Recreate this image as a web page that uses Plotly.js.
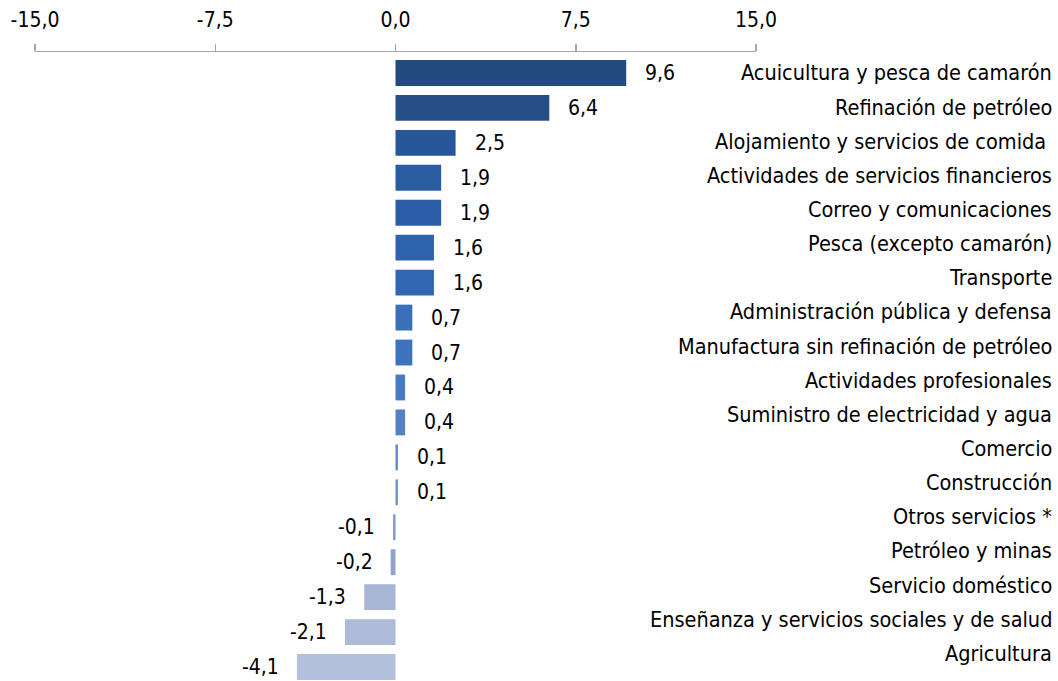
<!DOCTYPE html>
<html>
<head>
<meta charset="utf-8">
<script src="https://cdn.plot.ly/plotly-3.0.1.min.js"></script>
<style>html,body{margin:0;padding:0;background:#fff;}#chart{width:1058px;height:681px;}</style>
</head>
<body>
<div id="chart"></div>
<script>
const categories = [
  "Acuicultura y pesca de camarón",
  "Refinación de petróleo",
  "Alojamiento y servicios de comida ",
  "Actividades de servicios financieros",
  "Correo y comunicaciones",
  "Pesca (excepto camarón)",
  "Transporte",
  "Administración pública y defensa",
  "Manufactura sin refinación de petróleo",
  "Actividades profesionales",
  "Suministro de electricidad y agua",
  "Comercio",
  "Construcción",
  "Otros servicios *",
  "Petróleo y minas",
  "Servicio doméstico",
  "Enseñanza y servicios sociales y de salud",
  "Agricultura"
];
const values = [9.6, 6.4, 2.5, 1.9, 1.9, 1.6, 1.6, 0.7, 0.7, 0.4, 0.4, 0.1, 0.1, -0.1, -0.2, -1.3, -2.1, -4.1];
const tickValues = [-15, -7.5, 0, 7.5, 15];

const barColors = ["#234A7E","#254E86","#28569A","#2A5CA2","#2B5EA6","#2E63AD","#3066B2",
  "#3A6FBA","#3D72BD","#4A7BC2","#5580C2","#6686BE","#7390C2","#8298C6","#90A3CC",
  "#A8B6D6","#ADBBD8","#B3C0DC"];

const FONT = "'Liberation Sans Narrow', 'Arial Narrow', 'DejaVu Sans Condensed', sans-serif";
const fmt = v => v.toFixed(1).replace('.', ',');

const trace = {
  type: 'bar',
  orientation: 'h',
  x: values,
  y: categories,
  width: 0.74,
  marker: {color: barColors, line: {width: 0}},
  hoverinfo: 'none'
};

const annotations = [];
values.forEach((v, i) => {
  annotations.push({
    x: v, y: categories[i], xref: 'x', yref: 'y',
    text: fmt(v), showarrow: false,
    xanchor: v >= 0 ? 'left' : 'right',
    xshift: v >= 0 ? 17 : -16,
    font: {family: FONT, size: 21, color: '#000'}
  });
  annotations.push({
    x: 1, y: categories[i], xref: 'paper', yref: 'y',
    text: categories[i], showarrow: false,
    xanchor: 'right', xshift: 298, yshift: 0.8 * i,
    font: {family: FONT, size: 21.5, color: '#000'}
  });
});

const layout = {
  width: 1058, height: 681,
  margin: {l: 35, r: 302, t: 52, b: 0},
  paper_bgcolor: '#fff', plot_bgcolor: '#fff',
  separators: ',.',
  showlegend: false,
  xaxis: {
    side: 'top',
    range: [-15, 15],
    tickvals: tickValues,
    ticktext: tickValues.map(fmt),
    ticks: 'outside', ticklen: 7, tickcolor: '#A6A6A6', tickwidth: 1.5,
    showline: true, linecolor: '#A6A6A6', linewidth: 1.5,
    showgrid: false, zeroline: false,
    ticklabelstandoff: 8,
    tickfont: {family: FONT, size: 21, color: '#000'}
  },
  yaxis: {
    type: 'category',
    range: [17.4, -0.6],
    showticklabels: false, showgrid: false, zeroline: false, showline: false, ticks: ''
  },
  annotations: annotations
};

Plotly.newPlot('chart', [trace], layout, {staticPlot: true, displayModeBar: false});
</script>
</body>
</html>
